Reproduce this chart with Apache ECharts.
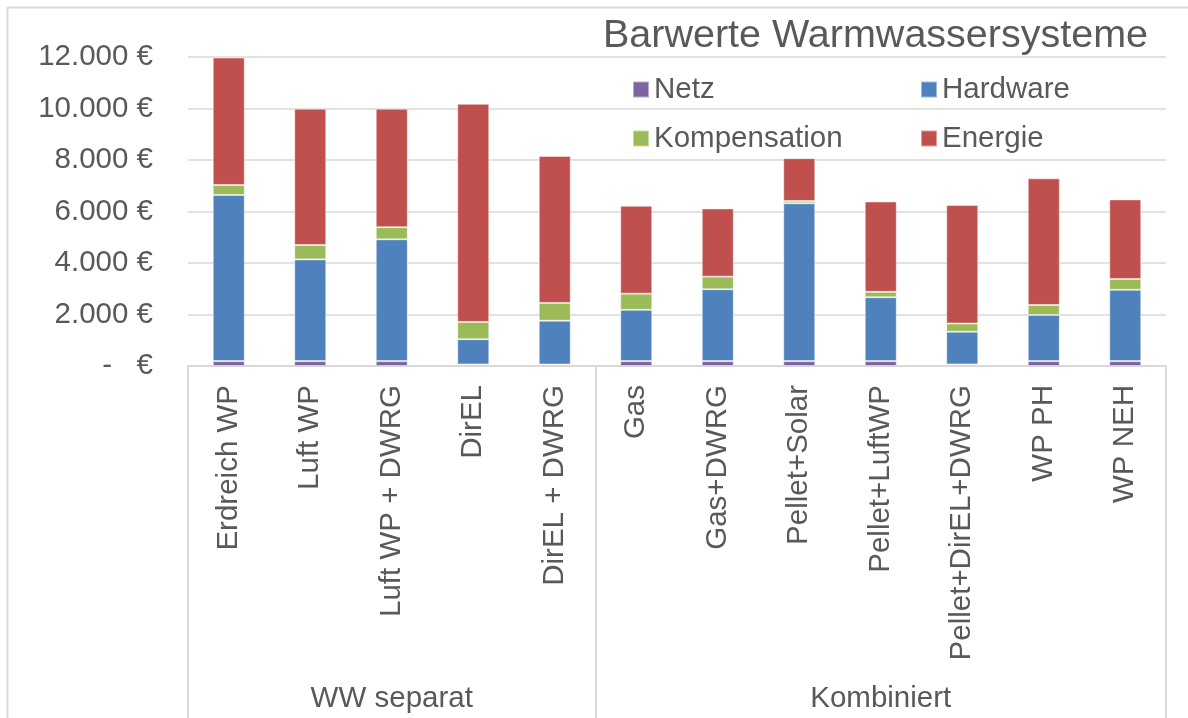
<!DOCTYPE html>
<html>
<head>
<meta charset="utf-8">
<script src="https://cdn.jsdelivr.net/npm/echarts@6/dist/echarts.min.js"></script>
<style>
  html, body { margin: 0; padding: 0; background: #fff; }
  #chart { width: 1188px; height: 718px; }
</style>
</head>
<body>
<div id="chart"></div>
<script>
const categories = [
  'Erdreich WP', 'Luft WP', 'Luft WP + DWRG', 'DirEL', 'DirEL + DWRG',
  'Gas', 'Gas+DWRG', 'Pellet+Solar', 'Pellet+LuftWP', 'Pellet+DirEL+DWRG', 'WP PH', 'WP NEH'
]
const groupNames = ['WW separat', 'Kombiniert']
const groupSizes = [5, 7]

const netz = [190, 190, 190, 60, 60, 190, 190, 190, 190, 60, 190, 190]
const hardware = [6450, 3950, 4730, 980, 1700, 1990, 2790, 6130, 2480, 1270, 1790, 2770]
const kompensation = [390, 560, 470, 670, 690, 630, 490, 90, 210, 320, 390, 420]
const energie = [4950, 5290, 4600, 8470, 5710, 3410, 2650, 1660, 3510, 4600, 4920, 3090]

const yTicks = [0, 2000, 4000, 6000, 8000, 10000, 12000]

const textColor = '#595959'
const lineColor = '#d9d9d9'
const font = 'Liberation Sans, Arial, sans-serif'

// group label sits on the middle category of each group, separators at group starts
const groupLabels = []
const groupStarts = []
groupSizes.forEach((size, g) => {
  groupStarts.push(groupLabels.length)
  for (let i = 0; i < size; i++) {
    groupLabels.push(i === Math.floor(size / 2) ? groupNames[g] : '')
  }
})

const formatEuro = (v) => {
  if (v === 0) return '-   €'
  return String(v).replace(/\B(?=(\d{3})+(?!\d))/g, '.') + ' €'
}

const barStyle = (color) => ({
  color: color,
  borderColor: 'rgba(255,255,255,0.45)',
  borderWidth: 1
})

const makeSeries = (name, data, color) => ({
  name: name,
  type: 'bar',
  stack: 'total',
  xAxisIndex: 0,
  barWidth: 32,
  data: data,
  itemStyle: barStyle(color)
})

const chart = echarts.init(document.getElementById('chart'))

chart.setOption({
  backgroundColor: '#fff',
  animation: false,
  textStyle: { fontFamily: font },
  title: {
    text: 'Barwerte Warmwassersysteme',
    left: 603,
    top: 16,
    padding: 0,
    textStyle: { color: textColor, fontSize: 39.5, fontWeight: 'normal', fontFamily: font }
  },
  legend: [
    {
      data: ['Netz', 'Kompensation'],
      orient: 'vertical',
      left: 632,
      top: 73,
      padding: 0,
      itemWidth: 16,
      itemHeight: 16,
      itemGap: 16,
      icon: 'rect',
      textStyle: { color: textColor, fontSize: 29.5, lineHeight: 33, fontFamily: font }
    },
    {
      data: ['Hardware', 'Energie'],
      orient: 'vertical',
      left: 920,
      top: 73,
      padding: 0,
      itemWidth: 16,
      itemHeight: 16,
      itemGap: 16,
      icon: 'rect',
      textStyle: { color: textColor, fontSize: 29.5, lineHeight: 33, fontFamily: font }
    }
  ],
  graphic: [
    {
      type: 'rect',
      z: -10,
      silent: true,
      shape: { x: 7.5, y: 7.5, width: 1200, height: 800 },
      style: { fill: 'none', stroke: lineColor, lineWidth: 2 }
    }
  ],
  grid: { left: 188, right: 22, top: 57, bottom: 352 },
  xAxis: [
    {
      type: 'category',
      data: categories,
      axisLine: { lineStyle: { color: lineColor, width: 2 } },
      axisTick: { show: false },
      axisLabel: {
        interval: 0,
        rotate: 90,
        margin: 19,
        color: textColor,
        fontSize: 29.5,
        fontFamily: font
      }
    },
    {
      type: 'category',
      position: 'bottom',
      data: groupLabels,
      axisLine: { show: false },
      axisTick: {
        show: true,
        interval: (idx) => groupStarts.includes(idx),
        length: 352,
        lineStyle: { color: lineColor, width: 2 }
      },
      axisLabel: {
        interval: 0,
        margin: 318,
        color: textColor,
        fontSize: 29.5,
        fontFamily: font
      }
    }
  ],
  yAxis: {
    type: 'value',
    min: yTicks[0],
    max: yTicks[yTicks.length - 1],
    interval: yTicks[1] - yTicks[0],
    axisLine: { show: false },
    axisTick: { show: false },
    splitLine: { lineStyle: { color: lineColor, width: 1.5 } },
    axisLabel: {
      margin: 35,
      color: textColor,
      fontSize: 29.5,
      fontFamily: font,
      formatter: formatEuro
    }
  },
  series: [
    makeSeries('Netz', netz, '#8064A2'),
    makeSeries('Hardware', hardware, '#4F81BD'),
    makeSeries('Kompensation', kompensation, '#9BBB59'),
    makeSeries('Energie', energie, '#C0504D')
  ]
})
</script>
</body>
</html>
